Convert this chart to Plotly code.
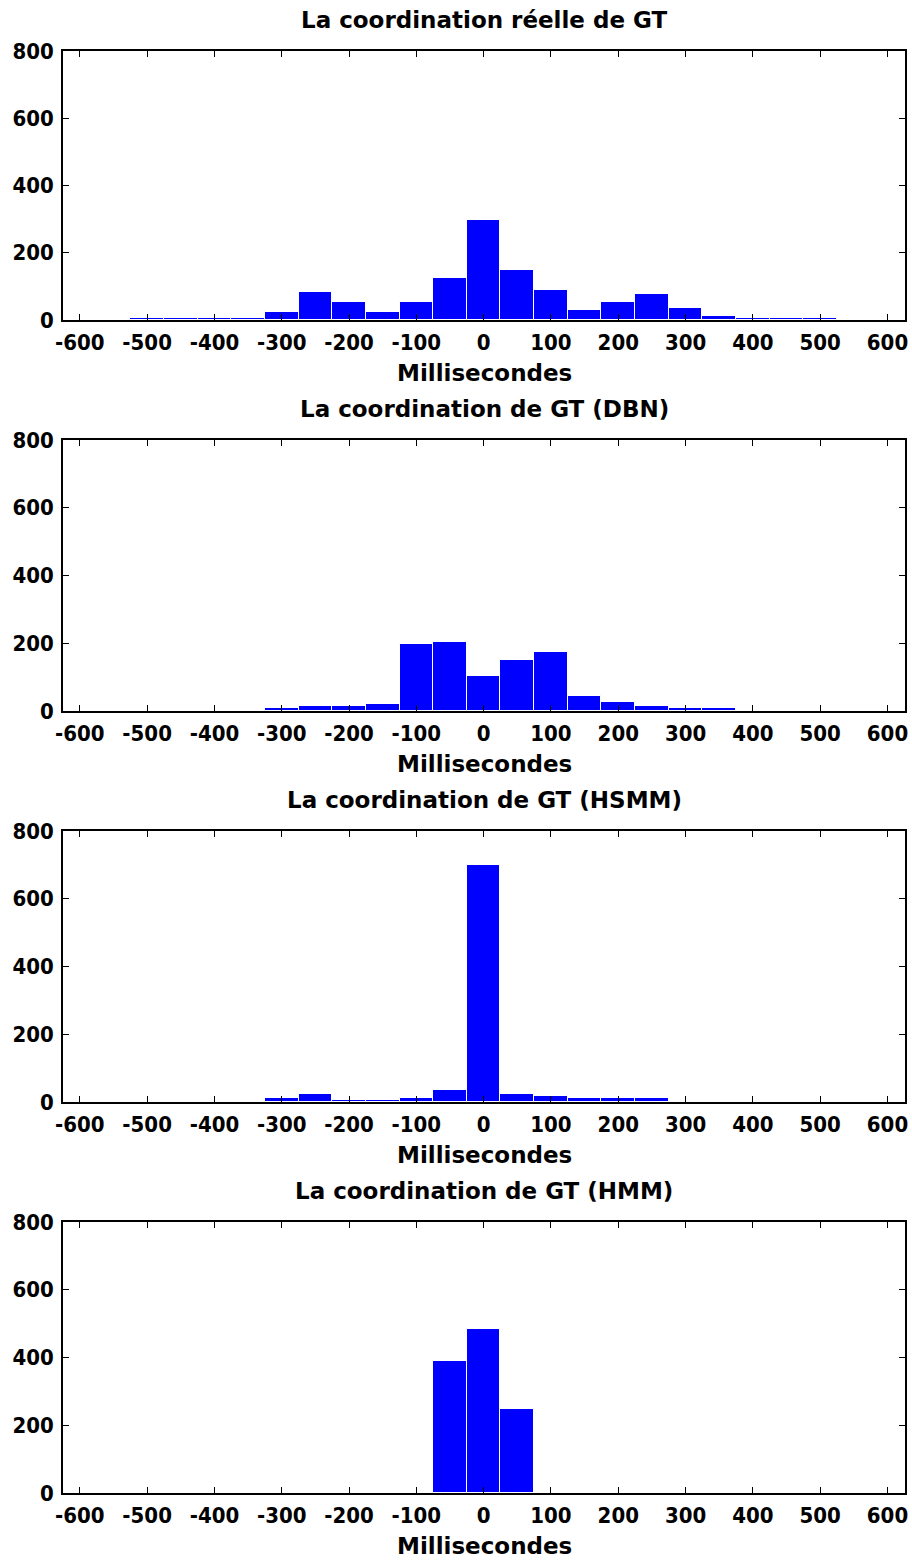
import plotly.graph_objects as go

W, H = 912, 1561

bin_centers = list(range(-500, 501, 50))

titles = [
    "La coordination réelle de GT",
    "La coordination de GT (DBN)",
    "La coordination de GT (HSMM)",
    "La coordination de GT (HMM)",
]

counts_reelle = [7, 7, 7, 7, 24, 84, 54, 24, 54, 126, 298, 149, 89, 30, 54, 77, 36, 12, 6, 6, 6]
counts_dbn = [0, 0, 0, 0, 8, 14, 14, 20, 199, 204, 103, 151, 175, 44, 26, 14, 8, 8, 0, 0, 0]
counts_hsmm = [0, 0, 0, 0, 11, 23, 5, 5, 11, 35, 700, 23, 17, 11, 11, 11, 0, 0, 0, 0, 0]
counts_hmm = [0, 0, 0, 0, 0, 0, 0, 0, 0, 389, 484, 247, 0, 0, 0, 0, 0, 0, 0, 0, 0]

series = [counts_reelle, counts_dbn, counts_hsmm, counts_hmm]

x_ticks = list(range(-600, 601, 100))
y_ticks = [0, 200, 400, 600, 800]
x_label = "Millisecondes"

# plot-area pixel boxes (top, bottom)
boxes = [(51, 320), (440, 711), (831, 1102), (1222, 1493)]
left_px, right_px = 63, 905

def fy(py):
    return 1 - py / H

tick_font = dict(family="DejaVu Sans Condensed, Liberation Sans Narrow, sans-serif",
                 size=22, color="black", weight="bold")
text_font = dict(family="DejaVu Sans, Arial, sans-serif", size=23, color="black", weight="bold")

fig = go.Figure()
layout = dict(
    width=W, height=H,
    margin=dict(l=0, r=0, t=0, b=0, autoexpand=False),
    paper_bgcolor="white", plot_bgcolor="white",
    showlegend=False, bargap=0,
    annotations=[],
)

for i, (vals, title, (top, bot)) in enumerate(zip(series, titles, boxes)):
    n = "" if i == 0 else str(i + 1)
    fig.add_trace(go.Bar(
        x=bin_centers, y=vals, width=50,
        marker=dict(color="#0000ff", line=dict(color="white", width=1)),
        xaxis="x" + n, yaxis="y" + n, hoverinfo="x+y",
    ))
    layout["xaxis" + n] = dict(
        domain=[left_px / W, right_px / W], anchor="y" + n, automargin=False,
        range=[-625, 626], tickvals=x_ticks, ticktext=[str(v) for v in x_ticks],
        ticks="inside", ticklen=6, tickwidth=1, tickcolor="black",
        showline=True, linecolor="black", linewidth=1.5, mirror="ticks",
        showgrid=False, zeroline=False, tickfont=tick_font, ticklabelstandoff=2,
    )
    layout["yaxis" + n] = dict(
        domain=[fy(bot), fy(top)], anchor="x" + n, automargin=False,
        range=[0, 800], tickvals=y_ticks, ticktext=[str(v) for v in y_ticks],
        ticks="inside", ticklen=6, tickwidth=1, tickcolor="black",
        showline=True, linecolor="black", linewidth=1.5, mirror="ticks",
        showgrid=False, zeroline=False, tickfont=tick_font, ticklabelstandoff=3,
    )
    cx = (left_px + right_px) / 2 / W
    layout["annotations"].append(dict(
        text=title, x=cx, y=fy(top - 31), xref="paper", yref="paper",
        xanchor="center", yanchor="middle", showarrow=False, font=text_font,
    ))
    layout["annotations"].append(dict(
        text=x_label, x=cx, y=fy(bot + 53), xref="paper", yref="paper",
        xanchor="center", yanchor="middle", showarrow=False, font=text_font,
    ))

fig.update_layout(**layout)
fig.write_html("out.html", config={"displayModeBar": False},
               post_script="document.body.style.margin='0';")
